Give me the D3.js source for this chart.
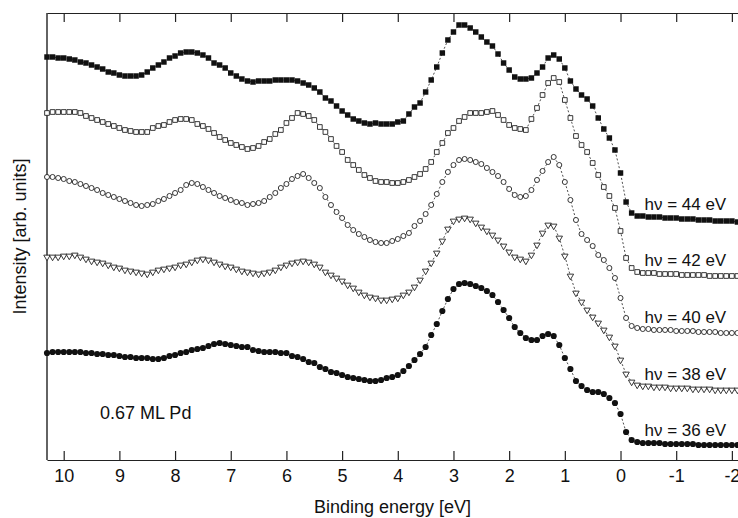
<!DOCTYPE html>
<html>
<head>
<meta charset="utf-8">
<script src="https://cdn.jsdelivr.net/npm/d3@7"></script>
<style>
body { margin: 0; background: #fff; }
text { font-family: "Liberation Sans", Arial, Helvetica, sans-serif; fill: #111; }
</style>
</head>
<body>
<div id="chart"></div>
<script>
// spectra sampled from 10.3 eV down to -2.1 eV, 0.1 eV apart
var eStart = 10.3, eStep = 0.1;
var tickEnergies = [10, 9, 8, 7, 6, 5, 4, 3, 2, 1, 0, -1, -2];

var spec44 = [403,403,402,402, 401,400,398,397,395,393,391,388,387,385, 384,384,384,385,388,392,395,398,402,404,
	407,408,408,407,405,402,397,395,392,387, 384,381,379,378,379,379,379,380,380,380,
	380,379,377,375,372,368,362,359,354,349, 345,341,339,337,336,337,336,336,336,338,
	339,346,353,357,368,380,393,407,420,428, 435,435,432,428,423,418,414,406,397,390,
	383,381,381,382,387,393,402,405,401,392, 379,371,365,361,354,342,331,322,310,287,
	258,247,244,244,243,243,243,242,242,242, 241,241,241,240,240,240,239,239,239,239,238];

var spec42 = [347,348,348,348, 348,348,347,344,342,340,338,336,334,332, 330,329,328,328,328,332,334,335,338,340,
	341,341,340,336,334,331,327,323,320,317, 315,313,311,312,314,318,321,326,330,337,
	342,347,346,344,340,333,328,321,314,308, 300,295,290,285,282,279,278,278,277,277,
	278,280,283,286,291,298,308,317,327,332, 339,343,347,347,347,348,349,345,340,335,
	332,331,330,341,352,365,377,382,378,360, 342,324,315,308,297,285,273,264,252,229,
	202,192,188,187,187,187,186,186,186,186, 185,185,185,185,185,184,184,184,184,184,184];

var spec40 = [283,283,282,281, 279,278,276,274,272,270,267,265,263,261, 259,257,255,254,255,256,259,261,264,267,
	270,275,277,276,273,270,267,264,262,260, 258,257,255,256,257,259,263,267,272,276,
	281,284,286,282,277,272,263,255,248,242, 235,230,226,223,220,218,217,217,219,221,
	224,227,234,239,246,255,266,278,288,295, 300,301,300,298,296,292,288,284,278,271,
	265,263,264,270,280,289,298,303,295,278, 260,240,226,220,214,205,200,192,182,162,
	142,134,132,131,131,130,130,130,130,129, 129,129,129,128,128,128,128,127,127,127,127];

var spec38 = [203,203,203,204, 204,205,203,201,199,198,197,195,193,192, 190,189,188,187,186,188,190,191,192,193,
	195,196,198,200,201,200,198,196,194,193, 191,189,188,187,186,187,188,190,193,195,
	197,198,199,198,196,193,188,185,182,179, 175,172,168,165,163,162,160,160,161,162,
	165,168,173,180,189,197,207,219,231,239, 241,242,241,237,233,229,225,220,214,208,
	203,201,199,205,215,227,235,234,222,204, 184,167,158,150,143,137,130,123,114,100,
	86,78,75,74,74,73,73,73,72,72, 72,72,71,71,71,71,70,70,70,70,70];

var spec36 = [107,108,108,108, 108,108,108,107,107,106,106,105,105,104, 103,103,102,102,102,101,101,102,104,105,
	107,108,110,111,112,114,116,117,116,115, 114,113,113,110,109,108,108,108,107,107,
	104,103,101,98,97,93,91,88,87,85, 83,82,81,80,79,79,80,82,83,85,
	89,94,100,106,113,125,136,149,161,171, 176,177,176,174,172,169,165,158,150,142,
	133,127,122,120,120,124,126,124,115,102, 91,79,74,70,68,68,66,62,57,46,
	28,20,18,17,17,17,17,16,16,16, 16,16,16,15,15,15,15,15,15,15,15];

var seriesLabels = ['hν = 44 eV', 'hν = 42 eV', 'hν = 40 eV', 'hν = 38 eV', 'hν = 36 eV'];
var seriesValues = [spec44, spec42, spec40, spec38, spec36];
var seriesMarkers = ['fsquare', 'osquare', 'ocircle', 'otriangle', 'fcircle'];

var width = 738;
var height = 518;
var margin = { left: 47, top: 13, bottom: 58 };

var svg = d3.select("#chart")
	.append("svg")
	.attr("width", width)
	.attr("height", height);

var x = d3.scaleLinear()
	.domain([10.3, -2.11])
	.range([margin.left, width]);

var y = d3.scaleLinear()
	.domain([0, 447])
	.range([height - margin.bottom, margin.top]);

var yBottom = height - margin.bottom;

// frame
var xAxis = d3.axisBottom(x)
	.tickValues(tickEnergies)
	.tickFormat(function(d) { return String(d); })
	.tickSizeInner(-9)
	.tickSizeOuter(0)
	.tickPadding(9);

var gx = svg.append("g")
	.attr("transform", "translate(0," + yBottom + ")")
	.call(xAxis);

gx.selectAll("text")
	.style("font-size", "18px")
	.attr("fill", "#111");

var gTop = svg.append("g")
	.attr("transform", "translate(0," + margin.top + ")")
	.call(d3.axisTop(x).tickValues(tickEnergies).tickFormat("").tickSizeInner(-9).tickSizeOuter(0));

svg.selectAll(".domain, .tick line")
	.attr("stroke", "#222")
	.attr("stroke-width", 1.2);

svg.append("line")
	.attr("x1", margin.left).attr("x2", margin.left)
	.attr("y1", margin.top).attr("y2", yBottom)
	.attr("stroke", "#222")
	.attr("stroke-width", 1.4);

svg.append("text")
	.attr("x", (margin.left + width) / 2)
	.attr("y", 513)
	.attr("text-anchor", "middle")
	.style("font-size", "18px")
	.text("Binding energy [eV]");

svg.append("text")
	.attr("transform", "translate(26," + ((margin.top + yBottom) / 2) + ") rotate(-90)")
	.attr("text-anchor", "middle")
	.style("font-size", "18px")
	.text("Intensity [arb. units]");

svg.append("text")
	.attr("x", 100)
	.attr("y", 419)
	.style("font-size", "18px")
	.text("0.67 ML Pd");

// spectra
var line = d3.line()
	.x(function(d) { return x(d.e); })
	.y(function(d) { return y(d.v); });

function markerPath(kind) {
	if (kind == 'fsquare') return d3.symbol().type(d3.symbolSquare).size(30)();
	if (kind == 'osquare') return d3.symbol().type(d3.symbolSquare).size(22)();
	if (kind == 'ocircle') return d3.symbol().type(d3.symbolCircle).size(20)();
	if (kind == 'otriangle') return d3.symbol().type(d3.symbolTriangle).size(18)();
	return d3.symbol().type(d3.symbolCircle).size(30)();
}

seriesValues.forEach(function(vals, k) {
	var pts = vals.map(function(v, i) { return { e: +(eStart - i * eStep).toFixed(1), v: v }; });
	var kind = seriesMarkers[k];
	var filled = kind.charAt(0) == 'f';

	var g = svg.append("g").attr("class", "spectrum");

	g.append("path")
		.attr("d", line(pts))
		.attr("fill", "none")
		.attr("stroke", "#222")
		.attr("stroke-width", 0.8)
		.attr("stroke-dasharray", "2,2");

	g.selectAll("path.marker")
		.data(pts)
		.enter()
		.append("path")
		.attr("class", "marker")
		.attr("d", markerPath(kind))
		.attr("transform", function(d) {
			var t = "translate(" + x(d.e) + "," + y(d.v) + ")";
			return kind == 'otriangle' ? t + " rotate(180)" : t;
		})
		.attr("fill", filled ? "#111" : "#fff")
		.attr("stroke", "#222")
		.attr("stroke-width", filled ? 0 : 0.9);

	// label sits just above the flat tail of the spectrum
	var tail = pts.find(function(d) { return d.e == -1; });
	g.append("text")
		.attr("x", x(-0.43))
		.attr("y", y(tail.v) - 8)
		.style("font-size", "17px")
		.text(seriesLabels[k]);
});
</script>
</body>
</html>
